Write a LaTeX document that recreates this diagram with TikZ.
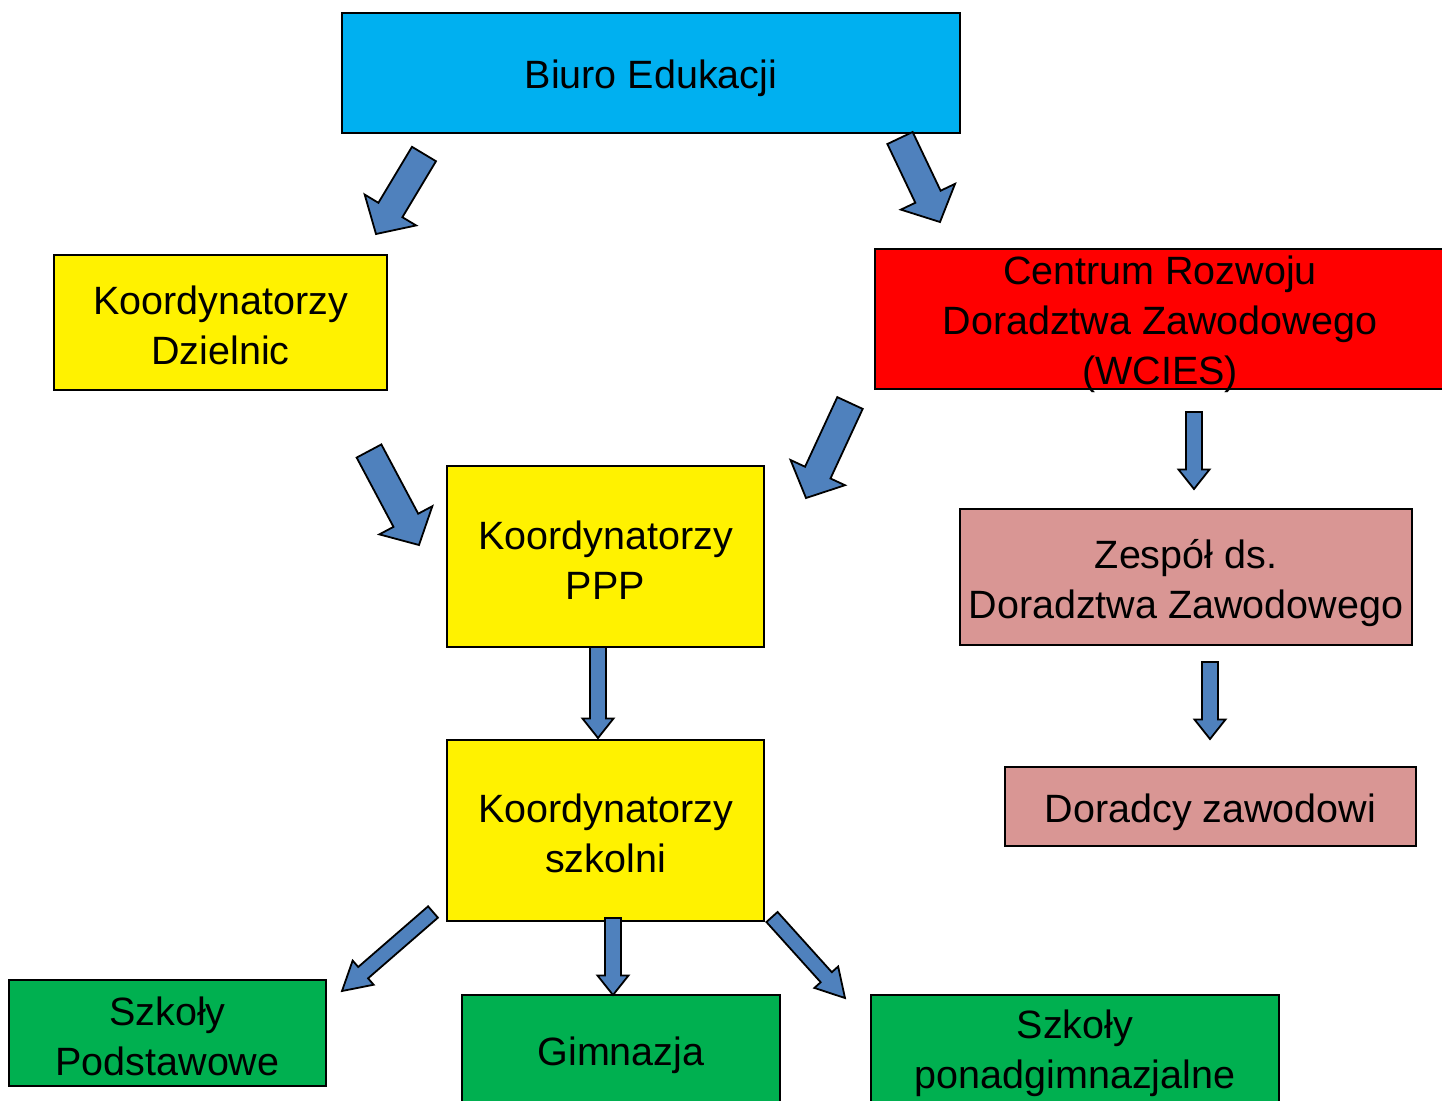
\documentclass[tikz,border=0pt]{standalone}
\usepackage{fontspec}
\setmainfont{Liberation Sans}
\usetikzlibrary{
  calc,        % for ($$)
  positioning
}
\definecolor{biuroblue}{HTML}{00B0F0}
\definecolor{centrered}{HTML}{FF0000}
\definecolor{teampink}{HTML}{D99694}
\definecolor{schoolgreen}{HTML}{00B050}
\definecolor{arrowblue}{HTML}{4F81BD}
\tikzstyle{unit} = [rectangle, draw=black, line width=0.9pt, align=center, inner sep=0pt, font=\fontsize{19.75}{25}\selectfont]
\tikzstyle{oneline}=[execute at begin node={\rule{0pt}{20pt}}]
\tikzstyle{twolines}=[execute at begin node={\rule{0pt}{42.5pt}}]
\tikzstyle{office}=[unit,oneline,fill=biuroblue]
\tikzstyle{coordunit}=[unit,twolines,fill=yellow]
\tikzstyle{centre}=[unit,fill=centrered,inner ysep=-2pt,execute at begin node={\rule{0pt}{69.7pt}}]
\tikzstyle{team}=[unit,fill=teampink]
\tikzstyle{school}=[unit,fill=schoolgreen]
\tikzstyle{arrowshape}=[draw=black, line width=0.9pt, fill=arrowblue, line join=miter]
% block arrow: tail, tip, half shaft, half head, head length
\newcommand\blockarrow[5]{%
  \coordinate (neck) at ($(#2)!#5!(#1)$);
  \draw[arrowshape] ($(#1)!#3!90:(#2)$) -- ($(neck)!#3!90:(#2)$) -- ($(neck)!#4!90:(#2)$) -- (#2)
    -- ($(neck)!#4!-90:(#2)$) -- ($(neck)!#3!-90:(#2)$) -- ($(#1)!#3!-90:(#2)$) -- cycle;
}
\newcommand\bigarrow[2]{\blockarrow{#1}{#2}{7pt}{15pt}{14pt}}
\newcommand\straightarrow[2]{\blockarrow{#1}{#2}{4pt}{7.75pt}{9.75pt}}
\newcommand\sidearrow[2]{\blockarrow{#1}{#2}{3.75pt}{8pt}{14pt}}

\begin{document}
\begin{tikzpicture}[x=0.5pt,y=-0.5pt]
\useasboundingbox (0,0) rectangle (1442,1100);
  % top level
\node[office,minimum width=309pt,minimum height=60pt](biuro) at (651,73) {Biuro Edukacji};
\node[coordunit,minimum width=166.5pt,minimum height=67.5pt](dzielnic) at (220.5,322.5) {Koordynatorzy\\Dzielnic};
\node[centre,minimum width=285pt,minimum height=70pt](centrum) at (1160,319) {Centrum Rozwoju\\Doradztwa Zawodowego\\(WCIES)};
  % middle level
\node[coordunit,minimum width=158.5pt,minimum height=90.5pt](ppp) at (605.5,556.5) {Koordynatorzy\\PPP};
\node[coordunit,minimum width=158.5pt,minimum height=90.5pt](szkolni) [below=45.5pt of ppp] {Koordynatorzy\\szkolni};
\node[team,execute at begin node={\rule{0pt}{45.5pt}},minimum width=226pt,minimum height=68pt](zespol) at (1186,577) {Zespół ds.\\Doradztwa Zawodowego};
\node[team,oneline,minimum width=205.5pt,minimum height=39.5pt](doradcy) at (1210.5,806.5) {Doradcy zawodowi};
  % schools
\node[school,twolines,minimum width=158.5pt,minimum height=53pt](podstawowe) at (167.5,1033) {Szkoły\\Podstawowe};
\node[school,oneline,minimum width=159pt,minimum height=55pt](gimnazja) at (621,1050) {Gimnazja};
\node[school,twolines,minimum width=204pt,minimum height=55pt](ponad) at (1075,1050) {Szkoły\\ponadgimnazjalne};

  % arrow ends
\coordinate (biuroL) at (424,154);   \coordinate (dzielnicT) at (376,234);
\coordinate (biuroR) at (900,138);   \coordinate (centrumT) at (940,222);
\coordinate (dzielnicB) at (369,451); \coordinate (pppL) at (419,545);
\coordinate (centrumL) at (850,403); \coordinate (pppR) at (806,498);
\coordinate (centrumB) at (1194,412); \coordinate (zespolT) at (1194,489);
\coordinate (zespolB) at (1210,662); \coordinate (doradcyT) at (1210,739);
\coordinate (pppB) at (598,647);     \coordinate (szkolniT) at (598,738);
\coordinate (szkolniL) at (433,912); \coordinate (podstawoweT) at (342,991);
\coordinate (szkolniB) at (613,918); \coordinate (gimnazjaT) at (613,995);
\coordinate (szkolniR) at (772,917); \coordinate (ponadT) at (845,998);

\bigarrow{biuroL}{dzielnicT}
\bigarrow{biuroR}{centrumT}
\bigarrow{dzielnicB}{pppL}
\bigarrow{centrumL}{pppR}
\straightarrow{centrumB}{zespolT}
\straightarrow{zespolB}{doradcyT}
\straightarrow{pppB}{szkolniT}
\straightarrow{szkolniB}{gimnazjaT}
\sidearrow{szkolniL}{podstawoweT}
\sidearrow{szkolniR}{ponadT}
\end{tikzpicture}
\end{document}
